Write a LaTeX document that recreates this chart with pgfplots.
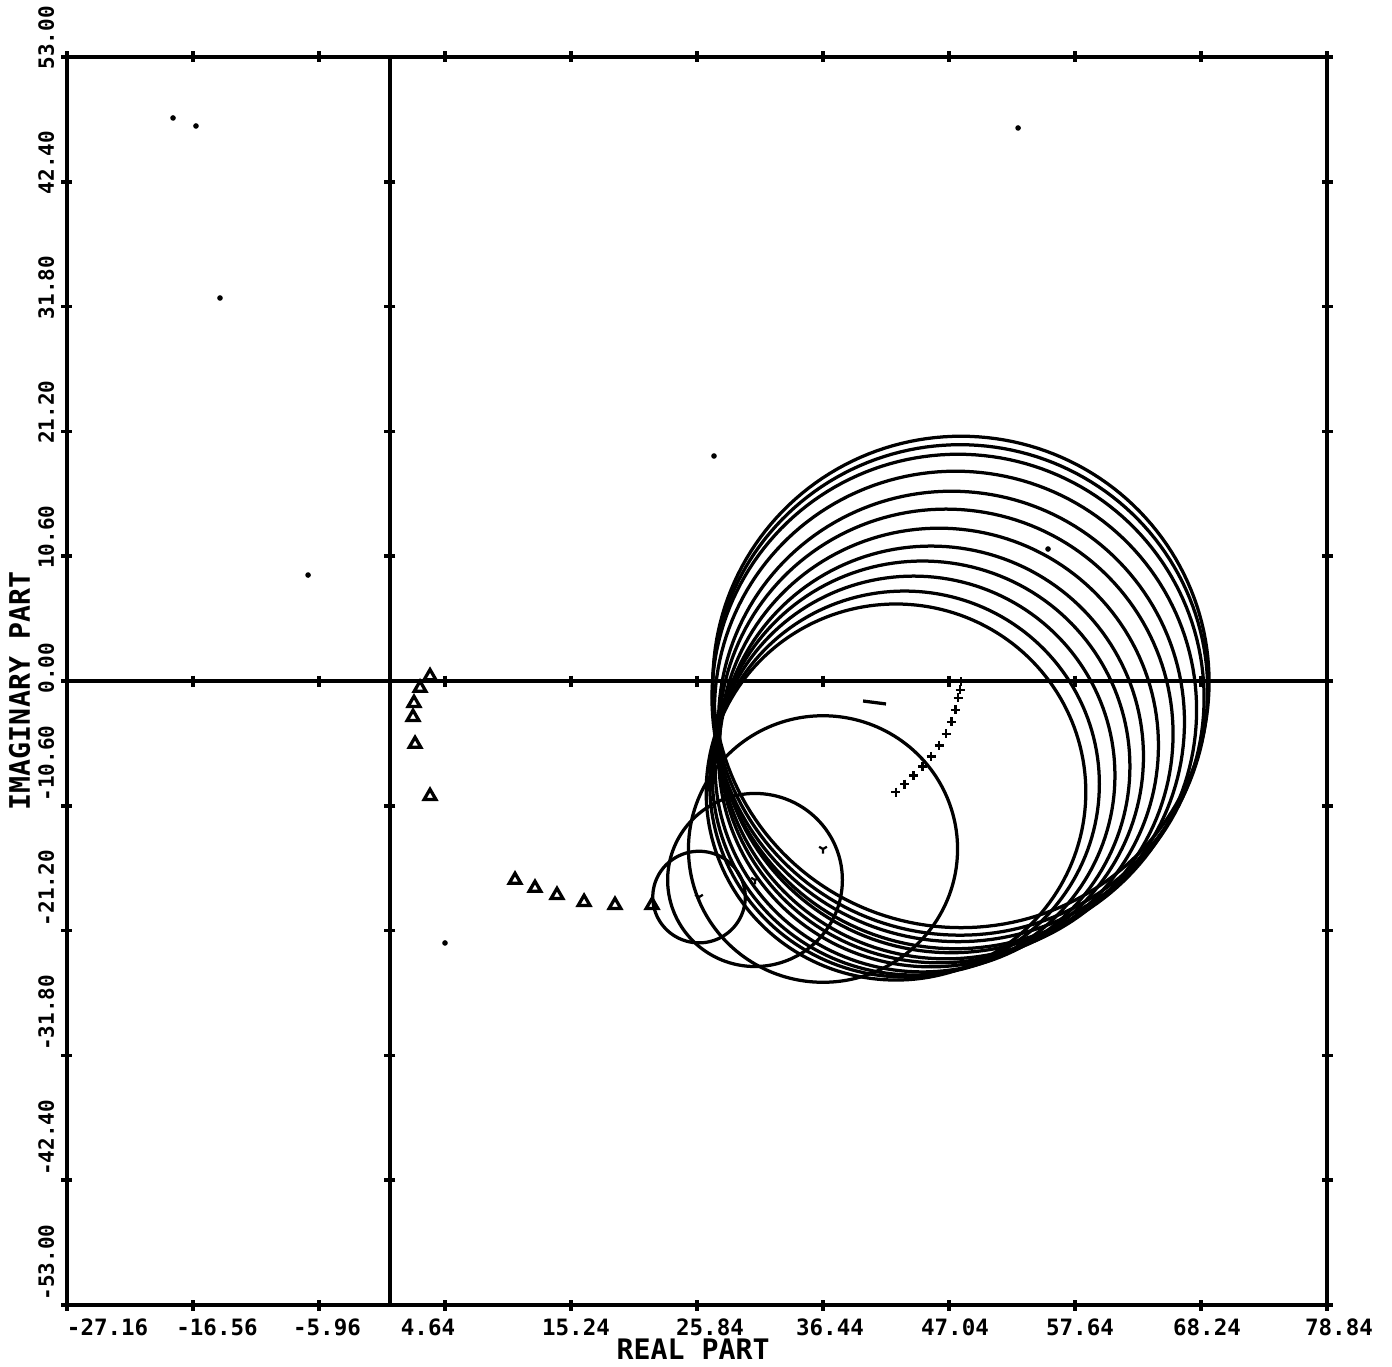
\documentclass[border=0pt]{standalone}
\usepackage{fontspec}
\setmainfont{DejaVu Sans Mono}
\usepackage{pgfplots}
\pgfplotsset{compat=1.18}
\usetikzlibrary{plotmarks}

% circle with centre (#1,#2) and radius #3, in data units
\newcommand{\locuscircle}[3]{%
  \addplot[black, line width=1.3pt, domain=0:360, samples=181, variable=\t]
    ({#1+#3*cos(\t)}, {#2+#3*sin(\t)});
}
% tick label moved sideways: #1 is twice the shift
\newcommand{\xl}[2]{\makebox[0pt][c]{\hspace*{#1}#2}}

\begin{document}
\begin{tikzpicture}
\begin{axis}[
  scale only axis,
  width=504pt, height=499.2pt,
  xmin=-27.16, xmax=78.84, ymin=-53, ymax=53,
  axis line style={black, line width=1.4pt},
  tick align=center,
  major tick length=4.4pt,
  every tick/.style={black, line width=1.4pt},
  xtick={-27.16,-16.56,-5.96,4.64,15.24,25.84,36.44,47.04,57.64,68.24,78.84},
  xticklabels={\makebox[0pt][l]{-27.16},\xl{19.2pt}{-16.56},\xl{6.4pt}{-5.96},\xl{-13.6pt}{4.64},\xl{4pt}{15.24},\xl{10.4pt}{25.84},\xl{5.6pt}{36.44},\xl{4.8pt}{47.04},\xl{4pt}{57.64},\xl{4.8pt}{68.24},\xl{9.6pt}{78.84}},
  ytick={-53,-42.4,-31.8,-21.2,-10.6,0,10.6,21.2,31.8,42.4,53},
  yticklabels={\hspace*{1.6pt}-53.00,\hspace*{1.6pt}-42.40,\hspace*{1.6pt}-31.80,\hspace*{1.6pt}-21.20,\hspace*{1.6pt}-10.60,\hspace*{-5.2pt}0.00,\hspace*{-5.2pt}10.60,\hspace*{-5.2pt}21.20,\hspace*{-5.2pt}31.80,\hspace*{-5.2pt}42.40,\hspace*{-5.2pt}53.00},
  xticklabel style={font=\fontsize{9}{10}\selectfont\bfseries, anchor=north, inner sep=0pt, yshift=-3pt},
  yticklabel style={font=\fontsize{8.4}{9}\selectfont\bfseries, rotate=90, anchor=base west, inner sep=0pt},
  yticklabel shift=3pt,
  xlabel={REAL PART},
  ylabel={IMAGINARY PART},
  xlabel style={at={(axis description cs:0.497,-0.0264)}, anchor=north, inner sep=0pt, font=\fontsize{11.3}{12}\selectfont\bfseries},
  ylabel style={at={(axis description cs:-0.0294,0.492)}, anchor=base, inner sep=0pt, font=\fontsize{11.3}{12}\selectfont\bfseries},
]

% coordinate axes through the origin, with their tick crosses
\addplot[black, line width=1.4pt, mark=|, mark size=2.2pt, mark options={line width=1.4pt}]
  coordinates {(-27.16,0) (-16.56,0) (-5.96,0) (4.64,0) (15.24,0) (25.84,0) (36.44,0) (47.04,0) (57.64,0) (68.24,0) (78.84,0)};
\addplot[black, line width=1.4pt, mark=-, mark size=2.2pt, mark options={line width=1.4pt}]
  coordinates {(0,-53) (0,-42.4) (0,-31.8) (0,-21.2) (0,-10.6) (0,0) (0,10.6) (0,21.2) (0,31.8) (0,42.4) (0,53)};

% family of twelve large circles
\locuscircle{48.05}{-0.08}{20.87}
\locuscircle{47.97}{-0.76}{20.83}
\locuscircle{47.80}{-1.44}{20.70}
\locuscircle{47.59}{-2.46}{20.28}
\locuscircle{47.25}{-3.48}{19.60}
\locuscircle{46.79}{-4.50}{19.10}
\locuscircle{46.20}{-5.48}{18.46}
\locuscircle{45.53}{-6.41}{17.87}
\locuscircle{44.81}{-7.26}{17.45}
\locuscircle{44.06}{-8.03}{16.94}
\locuscircle{43.30}{-8.75}{16.39}
\locuscircle{42.58}{-9.43}{15.97}

% three smaller circles
\locuscircle{36.44}{-14.27}{11.32}
\locuscircle{30.72}{-16.90}{7.35}
\locuscircle{26.01}{-18.35}{3.89}

% centres of the large circles
\addplot[only marks, black, mark=+, mark size=1.8pt, mark options={line width=1pt}]
  coordinates {(48.05,-0.08) (47.97,-0.76) (47.80,-1.44) (47.59,-2.46) (47.25,-3.48) (46.79,-4.50)
               (46.20,-5.48) (45.53,-6.41) (44.81,-7.26) (44.06,-8.03) (43.30,-8.75) (42.58,-9.43)};

% centres of the smaller circles
\addplot[only marks, black, mark=Mercedes star flipped, mark size=1.8pt, mark options={line width=0.9pt}]
  coordinates {(36.44,-14.27) (30.72,-16.90) (26.01,-18.35)};

% triangle locus
\addplot[only marks, black, mark=triangle, mark size=2.7pt, mark options={line width=1.3pt}]
  coordinates {(3.38,0.40) (2.54,-0.59) (2.03,-1.87) (1.95,-3.06) (2.12,-5.35) (3.38,-9.77)
               (10.53,-16.90) (12.21,-17.58) (14.06,-18.18) (16.34,-18.77) (18.94,-19.03) (22.06,-19.03)};

% short segment
\addplot[black, line width=1.3pt] coordinates {(39.81,-1.70) (41.74,-1.95)};

% isolated points
\addplot[only marks, black, mark=*, mark size=0.9pt]
  coordinates {(-18.24,47.82) (-16.31,47.14) (-14.29,32.53) (-6.88,9.00) (27.27,19.11)
               (52.85,46.97) (55.37,11.21) (4.64,-22.25)};

\end{axis}
\pgfresetboundingbox
\path (current axis.south west) ++(-26.8pt,-24.4pt) rectangle ([shift={(26pt,22.8pt)}]current axis.north east);
\end{tikzpicture}
\end{document}
